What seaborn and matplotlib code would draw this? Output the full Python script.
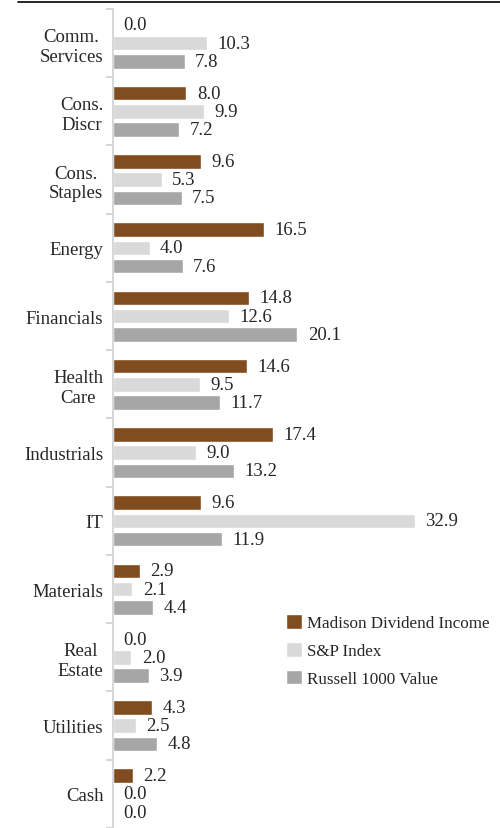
import pandas as pd
import matplotlib.pyplot as plt
import seaborn as sns
from matplotlib.lines import Line2D
from matplotlib.ticker import FixedLocator

#data
sectors = ["Comm.\nServices", "Cons.\nDiscr", "Cons.\nStaples", "Energy", "Financials",
           "Health\nCare", "Industrials", "IT", "Materials", "Real\nEstate", "Utilities", "Cash"]
madison = [0.0, 8.0, 9.6, 16.5, 14.8, 14.6, 17.4, 9.6, 2.9, 0.0, 4.3, 2.2]
sp_index = [10.3, 9.9, 5.3, 4.0, 12.6, 9.5, 9.0, 32.9, 2.1, 2.0, 2.5, 0.0]
russell = [7.8, 7.2, 7.5, 7.6, 20.1, 11.7, 13.2, 11.9, 4.4, 3.9, 4.8, 0.0]
series = ["Madison Dividend Income", "S&P Index", "Russell 1000 Value"]
colors = ["#914B0F", "#D9D9D9", "#A6A6A6"]

df = pd.DataFrame({"sector": sectors, series[0]: madison, series[1]: sp_index, series[2]: russell})
df = df.melt(id_vars="sector", var_name="fund", value_name="weight")

sns.set_style("white")
plt.rcParams["font.family"] = ["Liberation Serif", "DejaVu Serif"]

fig = plt.figure(figsize=(5, 8.29), dpi=100)
ax = fig.add_axes([0.226, 0.0, 0.774, 0.988])

sns.barplot(data=df, x="weight", y="sector", hue="fund", palette=colors, orient="h",
            width=0.8, ax=ax, legend=True)

#thinner bars with a small gap
for p in ax.patches:
    h = p.get_height()
    p.set_y(p.get_y() + h * 0.1)
    p.set_height(h * 0.8)

for c in ax.containers:
    ax.bar_label(c, fmt="%.1f", padding=7.5, fontsize=13.5, color="#262626")

ax.set_xlim(0, 42.2)
ax.set_ylim(11.5, -0.5)
ax.set_xlabel("")
ax.set_ylabel("")
ax.set_xticks([])
ax.tick_params(axis="y", which="major", left=False, labelsize=13.5, labelcolor="#262626", pad=3.5)
ax.yaxis.set_minor_locator(FixedLocator([i + 0.5 for i in range(-1, 12)]))
ax.tick_params(axis="y", which="minor", left=True, length=5, width=1.2, color="#D0D0D0")
for t in ax.get_yticklabels():
    t.set_multialignment("center")
for s in ["top", "right", "bottom"]:
    ax.spines[s].set_visible(False)
ax.spines["left"].set_color("#D0D0D0")
ax.spines["left"].set_linewidth(1.2)

handles, labels = ax.get_legend_handles_labels()
ax.legend(handles, labels, loc="upper left", bbox_to_anchor=(0.572, 0.258),
          bbox_transform=fig.transFigure, frameon=False, fontsize=12.25,
          borderpad=0, borderaxespad=0, handlelength=0.95, handleheight=0.95,
          handletextpad=0.3, labelspacing=0.62)

#black rule at the top
fig.add_artist(Line2D([0.036, 1.0], [0.996, 0.996], color="black", lw=1.2))

fig.savefig("out.png", dpi=100)
